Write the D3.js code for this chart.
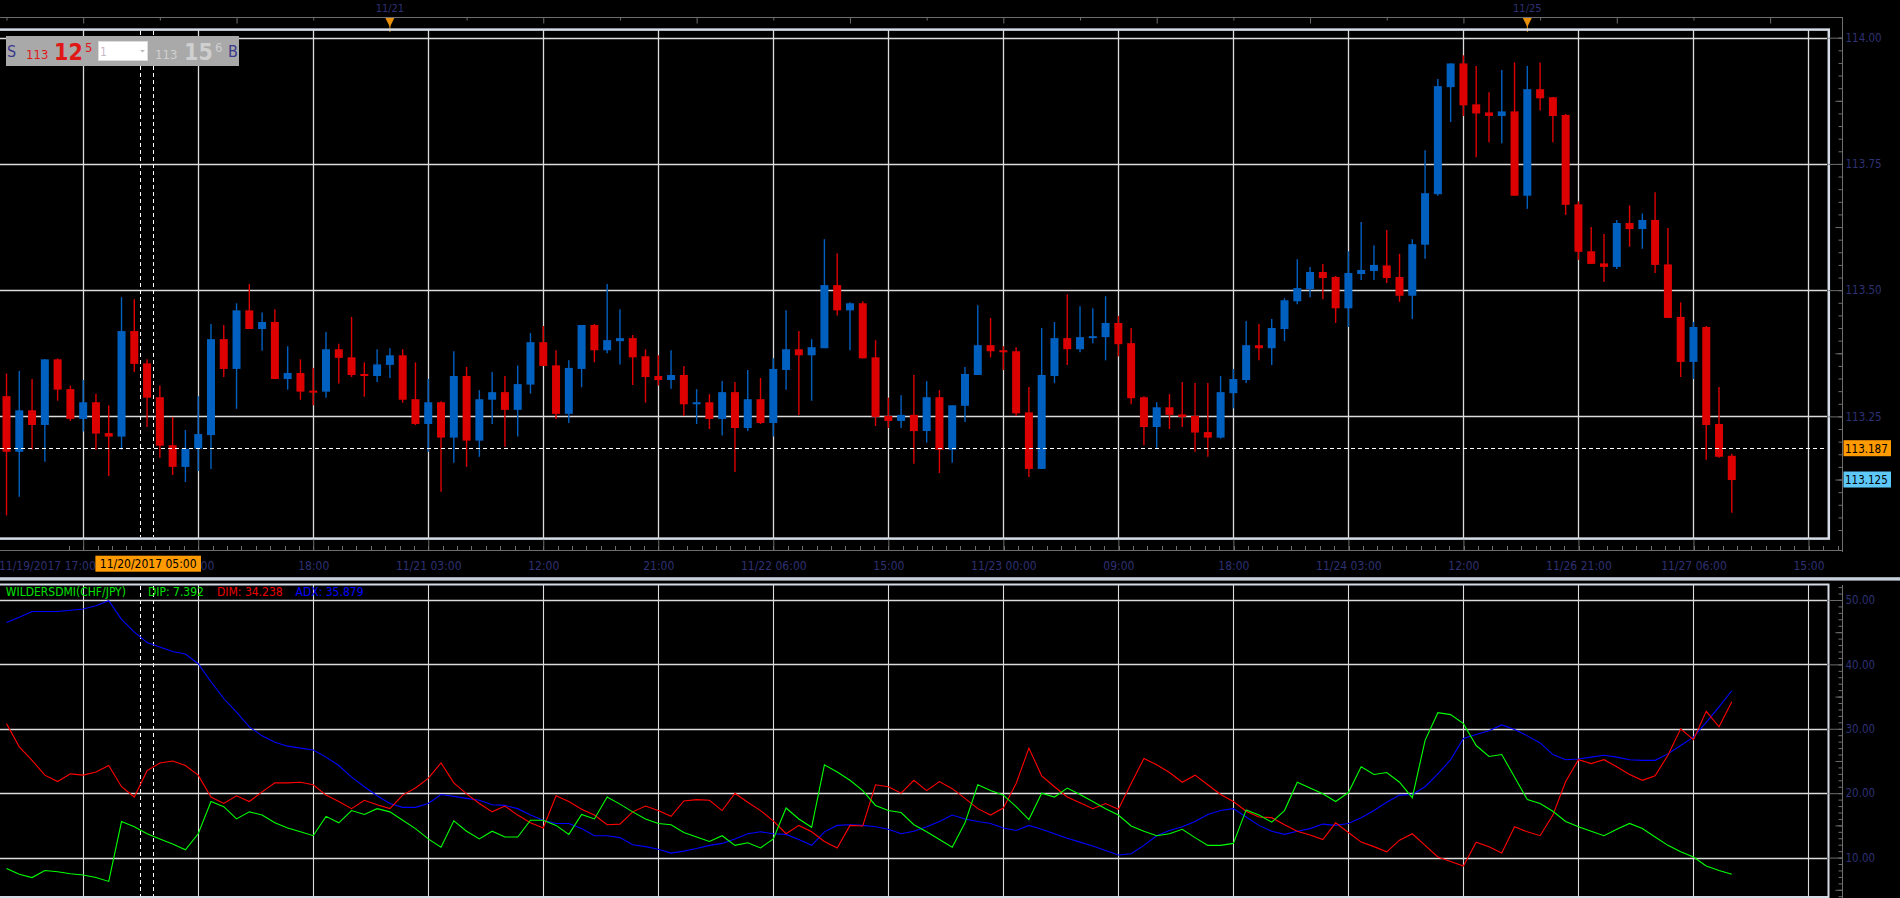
<!DOCTYPE html>
<html><head><meta charset="utf-8">
<script src="https://cdn.jsdelivr.net/npm/d3@7/dist/d3.min.js"></script>
<style>
html,body{margin:0;padding:0;background:#000;overflow:hidden}
svg{display:block}
text{font-family:"DejaVu Sans Condensed","DejaVu Sans",sans-serif;}
</style></head><body>
<svg id="c" width="1900" height="898"></svg>
<script>
// ---------- DATA ----------
const opens=[113.290,113.180,113.262,113.233,113.363,113.304,113.245,113.278,113.217,113.210,113.419,113.355,113.288,113.193,113.150,113.186,113.213,113.403,113.344,113.460,113.423,113.437,113.324,113.336,113.301,113.299,113.383,113.367,113.334,113.330,113.352,113.371,113.284,113.235,113.278,113.208,113.330,113.202,113.283,113.298,113.263,113.313,113.397,113.351,113.255,113.344,113.431,113.381,113.399,113.405,113.369,113.330,113.322,113.332,113.274,113.278,113.245,113.298,113.227,113.284,113.237,113.342,113.383,113.371,113.385,113.510,113.460,113.474,113.367,113.251,113.241,113.253,113.221,113.288,113.184,113.271,113.332,113.391,113.381,113.379,113.258,113.146,113.330,113.405,113.383,113.405,113.407,113.435,113.395,113.288,113.229,113.268,113.254,113.251,113.219,113.208,113.296,113.322,113.391,113.385,113.423,113.478,113.502,113.536,113.526,113.464,113.532,113.538,113.549,113.526,113.489,113.590,113.690,113.902,113.949,113.868,113.852,113.845,113.854,113.687,113.898,113.882,113.847,113.670,113.577,113.553,113.546,113.633,113.621,113.639,113.551,113.447,113.358,113.427,113.235,113.172];
const highs=[113.335,113.340,113.324,113.363,113.365,113.311,113.322,113.295,113.272,113.486,113.482,113.363,113.311,113.249,113.223,113.290,113.433,113.431,113.474,113.512,113.456,113.462,113.389,113.363,113.346,113.417,113.394,113.447,113.357,113.383,113.385,113.383,113.357,113.324,113.280,113.379,113.348,113.302,113.338,113.330,113.351,113.415,113.429,113.381,113.361,113.431,113.433,113.512,113.462,113.411,113.383,113.371,113.381,113.350,113.304,113.294,113.320,113.318,113.342,113.326,113.365,113.460,113.419,113.403,113.601,113.573,113.476,113.478,113.401,113.287,113.292,113.332,113.320,113.302,113.272,113.348,113.470,113.445,113.389,113.387,113.308,113.425,113.437,113.492,113.468,113.464,113.488,113.449,113.425,113.290,113.278,113.294,113.318,113.316,113.316,113.330,113.344,113.439,113.433,113.443,113.484,113.561,113.546,113.552,113.528,113.577,113.635,113.589,113.619,113.572,113.601,113.777,113.918,113.949,113.965,113.944,113.892,113.936,113.951,113.944,113.951,113.882,113.849,113.676,113.625,113.611,113.639,113.668,113.652,113.694,113.623,113.476,113.437,113.429,113.308,113.176];
const lows=[113.054,113.091,113.184,113.160,113.281,113.241,113.220,113.184,113.132,113.184,113.338,113.229,113.168,113.134,113.120,113.142,113.146,113.328,113.265,113.423,113.380,113.324,113.303,113.283,113.272,113.287,113.315,113.328,113.289,113.318,113.326,113.277,113.233,113.180,113.101,113.158,113.150,113.170,113.235,113.190,113.210,113.295,113.350,113.245,113.237,113.308,113.357,113.375,113.353,113.312,113.277,113.311,113.305,113.251,113.235,113.225,113.212,113.140,113.221,113.235,113.210,113.303,113.253,113.281,113.385,113.450,113.381,113.365,113.231,113.227,113.227,113.156,113.198,113.138,113.158,113.239,113.332,113.367,113.342,113.251,113.130,113.146,113.316,113.352,113.377,113.395,113.361,113.369,113.274,113.193,113.188,113.225,113.229,113.180,113.170,113.206,113.266,113.316,113.361,113.352,113.399,113.472,113.486,113.482,113.435,113.427,113.520,113.520,113.514,113.477,113.443,113.562,113.687,113.833,113.845,113.763,113.793,113.791,113.687,113.661,113.856,113.793,113.649,113.560,113.552,113.516,113.542,113.586,113.582,113.534,113.445,113.328,113.324,113.164,113.168,113.059];
const closes=[113.180,113.262,113.233,113.363,113.303,113.245,113.278,113.216,113.210,113.419,113.354,113.287,113.192,113.150,113.186,113.215,113.403,113.344,113.460,113.423,113.437,113.324,113.336,113.299,113.299,113.383,113.366,113.332,113.330,113.353,113.371,113.283,113.235,113.278,113.208,113.330,113.202,113.284,113.298,113.263,113.314,113.397,113.350,113.255,113.346,113.431,113.381,113.401,113.405,113.367,113.328,113.322,113.332,113.274,113.278,113.245,113.298,113.227,113.284,113.237,113.344,113.383,113.371,113.387,113.510,113.460,113.474,113.365,113.249,113.241,113.253,113.221,113.288,113.184,113.272,113.334,113.391,113.379,113.377,113.256,113.146,113.332,113.405,113.383,113.407,113.409,113.435,113.393,113.286,113.229,113.268,113.253,113.249,113.218,113.208,113.298,113.324,113.391,113.385,113.425,113.480,113.504,113.536,113.524,113.464,113.534,113.540,113.550,113.524,113.489,113.591,113.692,113.904,113.949,113.866,113.850,113.845,113.854,113.687,113.898,113.880,113.845,113.669,113.576,113.552,113.546,113.633,113.621,113.639,113.550,113.445,113.358,113.427,113.233,113.170,113.124];

const dip=[8.3,7.4,6.9,8.0,7.8,7.5,7.3,6.9,6.3,15.6,14.8,13.7,12.9,12.1,11.2,13.7,18.7,17.9,16.0,17.1,16.6,15.4,14.6,14.0,13.4,16.4,15.4,17.3,16.7,17.6,17.1,15.8,14.5,12.9,11.6,15.7,14.1,12.9,14.1,13.2,13.2,15.8,15.8,15.0,13.6,16.7,16.0,19.4,18.3,17.1,16.0,15.3,15.1,13.9,13.2,12.5,13.4,11.9,12.3,11.5,12.9,17.7,16.0,14.7,24.4,23.3,22.0,20.4,18.1,17.3,17.0,15.1,14.0,12.8,11.6,15.4,21.3,20.4,19.7,17.9,15.9,20.0,19.4,20.8,19.8,18.7,17.6,16.6,14.9,14.1,13.4,13.7,14.4,13.1,11.9,11.9,12.2,17.4,16.6,15.5,17.3,21.7,20.8,19.9,18.7,20.1,24.1,22.9,23.2,21.7,19.3,28.2,32.5,32.2,30.8,27.4,25.7,26.0,22.5,19.0,18.4,17.2,15.6,14.8,14.1,13.4,14.4,15.3,14.5,13.2,11.9,10.9,10.1,8.7,8.0,7.4];
const dim=[30.8,27.2,25.1,22.8,21.8,23.0,22.8,23.3,24.3,21.0,19.4,23.5,24.7,25.0,24.3,22.8,19.4,18.4,19.6,18.7,20.2,21.6,21.6,21.7,21.3,19.7,18.7,17.6,18.9,18.2,17.6,19.7,20.8,22.3,24.7,21.6,19.9,18.4,17.1,18.0,16.6,15.4,14.6,19.6,18.7,17.5,16.6,15.1,15.2,17.1,18.0,17.3,16.4,18.8,19.0,18.9,17.3,20.0,18.6,17.3,15.7,13.7,15.0,14.0,12.5,11.5,15.0,14.9,21.3,21.0,20.0,22.0,20.4,21.8,20.7,19.2,17.6,16.6,17.7,21.5,27.0,22.7,21.0,19.4,18.5,17.6,18.4,17.5,21.5,25.4,24.4,23.2,21.7,22.8,21.3,19.8,18.7,17.2,16.3,16.2,15.1,14.1,13.5,12.8,15.4,13.9,12.4,11.7,10.9,12.7,13.7,11.9,10.1,9.4,8.7,12.4,11.7,10.7,14.8,14.0,13.4,16.6,21.8,25.2,24.6,25.2,24.1,22.9,22.0,22.7,25.9,30.0,28.3,32.7,30.3,34.2];
const adx=[46.5,47.3,48.2,48.2,48.2,48.4,48.6,49.1,49.9,47.0,45.0,43.4,42.7,42.0,41.6,40.1,37.3,34.7,32.6,30.3,28.9,27.9,27.3,27.0,26.7,25.6,24.3,22.5,21.0,19.6,18.4,17.8,17.8,18.4,19.8,19.5,19.2,18.9,18.2,18.1,17.6,16.6,15.8,15.3,15.3,14.5,13.4,13.4,13.1,12.0,11.7,11.3,10.7,11.0,11.4,11.9,12.2,12.9,13.7,14.0,13.7,13.6,12.8,11.9,14.0,15.0,15.1,15.0,14.8,14.4,13.7,14.1,14.8,15.6,16.6,16.0,15.6,15.3,14.6,14.2,15.0,14.4,13.7,13.0,12.4,11.8,11.1,10.4,10.6,11.9,13.4,14.2,14.8,15.6,16.7,17.3,17.6,16.3,15.0,14.1,13.6,14.1,14.5,15.2,15.0,15.3,16.2,17.3,18.6,19.7,19.8,21.0,23.0,25.2,28.5,29.1,29.7,30.6,29.9,28.9,27.8,26.0,25.2,25.3,25.6,25.9,25.6,25.2,25.1,25.1,26.1,27.4,28.7,31.0,33.4,35.9];

const xTickIdx=[15,24,33,42,51,60,69,78,87,96,105,114,123,132,141];
const xTickLabels=["09:00","18:00","11/21 03:00","12:00","21:00","11/22 06:00","15:00","11/23 00:00","09:00","18:00","11/24 03:00","12:00","11/26 21:00","11/27 06:00","15:00"];
const gridIdx=[6,15,24,33,42,51,60,69,78,87,96,105,114,123,132,141];
const firstLabel="11/19/2017 17:00";
const dayMarkerIdx=[30,119];
const dayMarkerLabels=["11/21","11/25"];
const priceTicks=[113.25,113.50,113.75,114.00];
const indTicks=[10,20,30,40,50];
const crossPrice=113.187, lastPrice=113.125, crossLabel="11/20/2017 05:00";
const legendParts=["WILDERSDMI(CHF/JPY)","DIP: 7.392","DIM: 34.238","ADX: 35.879"];

// ---------- DRAW ----------
const svg=d3.select("#c");
svg.append("rect").attr("width",1900).attr("height",898).attr("fill","#000");

const x=d3.scaleLinear().domain([0,141]).range([6.5,6.5+12.78*141]);
const yP=d3.scaleLinear().domain([113.008,114.016]).range([538.6,29.6]);
const yI=d3.scaleLinear().domain([3.88,52.48]).range([897,584]);
const AXC="#6e6e6e", LBL="#2e3172", GRID="#dcdcdc", BORDER="#d5dce5";
const UP="#0060c0", DN="#dd0000";

// top header axis
svg.append("line").attr("x1",0).attr("x2",1843).attr("y1",17.5).attr("y2",17.5).attr("stroke",AXC);
const topAx=svg.append("g").attr("transform","translate(0,17.5)")
  .call(d3.axisBottom(x).tickValues(d3.range(0,142,6)).tickSize(3).tickFormat(""));
topAx.select(".domain").remove();
topAx.selectAll("line").attr("stroke",AXC).attr("y2",(d)=> d%12===6?6:3);
dayMarkerIdx.forEach((idx,k)=>{
  const cx=x(idx);
  svg.append("text").attr("x",cx).attr("y",12).attr("text-anchor","middle").attr("font-size",11).attr("fill",LBL).text(dayMarkerLabels[k]);
  svg.append("line").attr("x1",cx).attr("x2",cx).attr("y1",24).attr("y2",32).attr("stroke","#e08a10").attr("stroke-width",1);
  svg.append("path").attr("d",`M${cx-4.5},18 L${cx+4.5},18 L${cx},27 Z`).attr("fill","#e8900c");
});

// price panel grid
const pg=svg.append("g");
pg.selectAll("line.h").data(priceTicks).join("line")
  .attr("x1",0).attr("x2",1827).attr("y1",d=>Math.round(yP(d))+0.5).attr("y2",d=>Math.round(yP(d))+0.5)
  .attr("stroke",GRID).attr("stroke-width",1.3);
pg.selectAll("line.v").data(gridIdx).join("line")
  .attr("x1",d=>Math.round(x(d))+0.5).attr("x2",d=>Math.round(x(d))+0.5).attr("y1",30).attr("y2",538)
  .attr("stroke",GRID).attr("stroke-width",1.3);

// candles
const cg=svg.append("g");
opens.forEach((o,i)=>{
  const c=closes[i], up=c>o, col=up?UP:DN, cx=x(i);
  cg.append("line").attr("x1",cx).attr("x2",cx).attr("y1",yP(highs[i])).attr("y2",yP(lows[i]))
    .attr("stroke",col).attr("stroke-width",1.4);
  const yt=yP(Math.max(o,c)), yb=yP(Math.min(o,c));
  cg.append("rect").attr("x",cx-4).attr("width",8).attr("y",yt).attr("height",Math.max(2,yb-yt)).attr("fill",col);
});

// crosshair in price panel
svg.append("line").attr("x1",0).attr("x2",1827).attr("y1",Math.round(yP(crossPrice))+0.5).attr("y2",Math.round(yP(crossPrice))+0.5)
  .attr("stroke","#fff").attr("stroke-dasharray","4,3");
[140.5,153.5].forEach(xx=>{
  svg.append("line").attr("x1",xx).attr("x2",xx).attr("y1",31).attr("y2",537).attr("stroke","#fff").attr("stroke-dasharray","4,3");
  svg.append("line").attr("x1",xx).attr("x2",xx).attr("y1",586).attr("y2",896).attr("stroke","#fff").attr("stroke-dasharray","4,3");
});

// price border
svg.append("rect").attr("x",-3).attr("y",29.6).attr("width",1831.8).attr("height",509).attr("fill","none")
  .attr("stroke",BORDER).attr("stroke-width",2.5);

// right price axis
svg.append("line").attr("x1",1842.5).attr("x2",1842.5).attr("y1",17).attr("y2",552).attr("stroke",AXC);
const pA1=svg.append("g").attr("transform","translate(1842.5,0)")
  .call(d3.axisRight(yP).tickValues(d3.range(113.025,114.015,0.025)).tickSize(-4).tickFormat(""));
const pA2=svg.append("g").attr("transform","translate(1842.5,0)")
  .call(d3.axisRight(yP).tickValues([113.125,113.375,113.625,113.875]).tickSize(-7).tickFormat(""));
const pA3=svg.append("g").attr("transform","translate(1842.5,0)")
  .call(d3.axisRight(yP).tickValues(priceTicks).tickSize(-14).tickPadding(3).tickFormat(d3.format(".2f")));
[pA1,pA2,pA3].forEach(g=>{g.select(".domain").remove();g.selectAll("line").attr("stroke",AXC);});
pA3.selectAll("text").attr("fill",LBL).attr("font-size",11.5).attr("font-family",null);

// price flags
[[crossPrice,"#ff9a00"],[lastPrice,"#5ec8f8"]].forEach(([p,c])=>{
  const yy=yP(p);
  svg.append("rect").attr("x",1843.5).attr("y",yy-8).attr("width",47.5).attr("height",16).attr("fill",c);
  svg.append("text").attr("x",1845).attr("y",yy+4.3).attr("font-size",11.5).attr("fill","#000").text(d3.format(".3f")(p));
});

// bottom x axis
svg.append("line").attr("x1",0).attr("x2",1843).attr("y1",550.5).attr("y2",550.5).attr("stroke",AXC);
const minorX=d3.range(0,130).map(k=>x(6)-14.38+ k*14.38).filter(v=>v>0&&v<1840);
svg.append("g").selectAll("line").data(minorX).join("line")
  .attr("x1",d=>Math.round(d)+0.5).attr("x2",d=>Math.round(d)+0.5).attr("y1",546).attr("y2",550).attr("stroke",AXC);
const xAx=svg.append("g").attr("transform","translate(0,550.5)")
  .call(d3.axisTop(x).tickValues(gridIdx).tickSize(11).tickFormat(""));
xAx.select(".domain").remove(); xAx.selectAll("line").attr("stroke",AXC);
const xLab=svg.append("g").attr("transform","translate(0,550.5)")
  .call(d3.axisBottom(x).tickValues(xTickIdx).tickSize(0).tickPadding(10.5).tickFormat((d,k)=>xTickLabels[k]));
xLab.select(".domain").remove();
xLab.selectAll("text").attr("fill",LBL).attr("font-size",12).attr("font-family",null);
svg.append("text").attr("x",-1).attr("y",569.5).attr("font-size",12).attr("fill",LBL).text(firstLabel);
svg.append("rect").attr("x",95.4).attr("y",555.7).attr("width",105.6).attr("height",16).attr("fill","#ff9a00");
svg.append("text").attr("x",148.2).attr("y",568.3).attr("text-anchor","middle").attr("font-size",12).attr("fill","#000").text(crossLabel);

// separator
svg.append("rect").attr("x",0).attr("y",577.2).attr("width",1900).attr("height",3.4).attr("fill","#c8d0db");

// indicator panel
const ig=svg.append("g");
ig.selectAll("line.h").data(indTicks).join("line")
  .attr("x1",0).attr("x2",1827).attr("y1",d=>Math.round(yI(d))+0.5).attr("y2",d=>Math.round(yI(d))+0.5)
  .attr("stroke",GRID).attr("stroke-width",1.3);
ig.selectAll("line.v").data(gridIdx).join("line")
  .attr("x1",d=>Math.round(x(d))+0.5).attr("x2",d=>Math.round(x(d))+0.5).attr("y1",585).attr("y2",897)
  .attr("stroke",GRID).attr("stroke-width",1.1);
const ln=d3.line().x((d,i)=>x(i)).y(d=>yI(d));
[[adx,"#0000ff"],[dim,"#ff0000"],[dip,"#00ff00"]].forEach(([arr,c])=>{
  ig.append("path").attr("d",ln(arr)).attr("fill","none").attr("stroke",c).attr("stroke-width",1.1);
});
svg.append("rect").attr("x",-3).attr("y",584.5).attr("width",1831.5).attr("height",312.5).attr("fill","none")
  .attr("stroke",BORDER).attr("stroke-width",2);

// legend
const legX=[5.8,148,217,295.6], legC=["#00e000","#00e000","#ee0000","#0000ff"];
legendParts.forEach((t,k)=>{
  svg.append("text").attr("x",legX[k]).attr("y",596).attr("font-size",12).attr("fill",legC[k]).text(t);
});

// right indicator axis
svg.append("line").attr("x1",1842.5).attr("x2",1842.5).attr("y1",585).attr("y2",898).attr("stroke",AXC);
const iA1=svg.append("g").attr("transform","translate(1842.5,0)")
  .call(d3.axisRight(yI).tickValues(d3.range(4,53,1)).tickSize(-4).tickFormat(""));
const iA2=svg.append("g").attr("transform","translate(1842.5,0)")
  .call(d3.axisRight(yI).tickValues([5,15,25,35,45]).tickSize(-7).tickFormat(""));
const iA3=svg.append("g").attr("transform","translate(1842.5,0)")
  .call(d3.axisRight(yI).tickValues(indTicks).tickSize(-14).tickPadding(3).tickFormat(d3.format(".2f")));
[iA1,iA2,iA3].forEach(g=>{g.select(".domain").remove();g.selectAll("line").attr("stroke",AXC);});
iA3.selectAll("text").attr("fill",LBL).attr("font-size",11.5).attr("font-family",null);

// quote overlay box
const q=svg.append("g");
q.append("rect").attr("x",6).attr("y",36).attr("width",233).attr("height",30).attr("fill","#a9a9a9");
const qt=(t,xx,yy,fs,c,w)=>q.append("text").attr("x",xx).attr("y",yy).attr("font-size",fs).attr("fill",c).attr("font-weight",w||"normal").text(t);
qt("S",7,57.3,16,"#3a3a8c");
qt("113",26,59.3,13,"#e01818");
qt("12",54,60,23,"#e01818","bold");
qt("5",85,51.7,13,"#e01818");
q.append("rect").attr("x",98.5).attr("y",41.5).attr("width",49).attr("height",19).attr("fill","#fff").attr("stroke","#dcdcdc");
qt("1",100,56,12,"#c8b8c8");
q.append("path").attr("d","M140,50 L145,50 L142.5,52.5 Z").attr("fill","#bbb");
qt("113",155,59.3,13,"#cfcfcf");
qt("15",184,60,23,"#cfcfcf","bold");
qt("6",215,51.7,13,"#cfcfcf");
qt("B",228,57.3,16,"#3a3a8c");
</script>
</body></html>
